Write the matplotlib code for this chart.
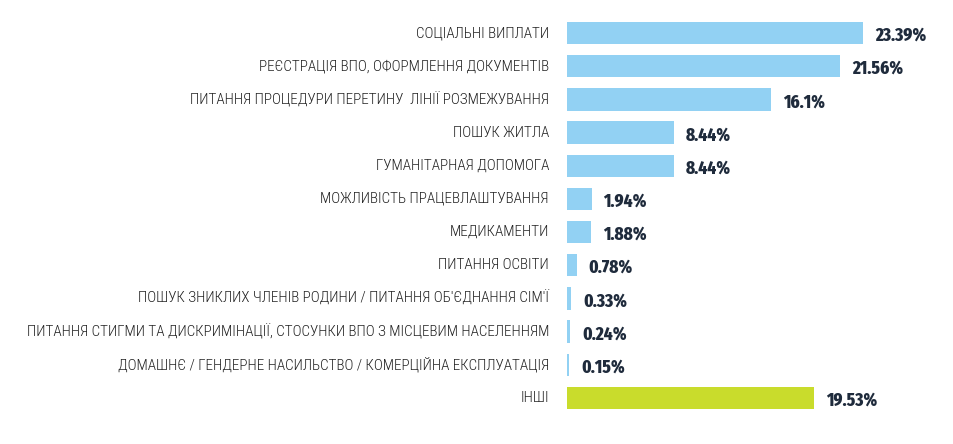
import matplotlib.pyplot as plt
from matplotlib import font_manager

categories = [
    "СОЦІАЛЬНІ ВИПЛАТИ",
    "РЕЄСТРАЦІЯ ВПО, ОФОРМЛЕННЯ ДОКУМЕНТІВ",
    "ПИТАННЯ ПРОЦЕДУРИ ПЕРЕТИНУ  ЛІНІЇ РОЗМЕЖУВАННЯ",
    "ПОШУК ЖИТЛА",
    "ГУМАНІТАРНАЯ ДОПОМОГА",
    "МОЖЛИВІСТЬ ПРАЦЕВЛАШТУВАННЯ",
    "МЕДИКАМЕНТИ",
    "ПИТАННЯ ОСВІТИ",
    "ПОШУК ЗНИКЛИХ ЧЛЕНІВ РОДИНИ / ПИТАННЯ ОБ'ЄДНАННЯ СІМ'Ї",
    "ПИТАННЯ СТИГМИ ТА ДИСКРИМІНАЦІЇ, СТОСУНКИ ВПО З МІСЦЕВИМ НАСЕЛЕННЯМ",
    "ДОМАШНЄ / ГЕНДЕРНЕ НАСИЛЬСТВО / КОМЕРЦІЙНА ЕКСПЛУАТАЦІЯ",
    "ІНШІ",
]
values = [23.39, 21.56, 16.1, 8.44, 8.44, 1.94, 1.88, 0.78, 0.33, 0.24, 0.15, 19.53]
value_labels = ["23.39%", "21.56%", "16.1%", "8.44%", "8.44%", "1.94%", "1.88%",
                "0.78%", "0.33%", "0.24%", "0.15%", "19.53%"]

blue = "#92d1f3"
green = "#c9dc2c"
colors = [blue] * 11 + [green]

names = {f.name for f in font_manager.fontManager.ttflist}
def pick(*cands):
    for c in cands:
        if c in names:
            return c
    return "DejaVu Sans"

label_font = pick("Roboto Condensed", "PT Sans Narrow", "Fira Sans Condensed")
value_font = pick("Fira Sans Extra Condensed", "Roboto Condensed", "PT Sans Narrow")

fig = plt.figure(figsize=(9.54, 4.44), dpi=100)
ax = fig.add_axes([567 / 954, 1 - 414.5 / 444, 373 / 954, 398 / 444])

px = 12.66  # pixels per percent
y = list(range(len(values)))
ax.barh(y, values, height=0.67, color=colors, edgecolor="none")
ax.set_xlim(0, 373 / px)
ax.set_ylim(11.5, -0.5)

renderer = fig.canvas.get_renderer()

# fit the longest category label to the reference width (~522 px)
t = fig.text(0, 0, categories[9], fontsize=10, family=label_font, fontweight=300)
w = t.get_window_extent(renderer).width
t.remove()
label_size = 10 * 522 / w

# fit "23.39%" to ~51 px
t = fig.text(0, 0, "23.39%", fontsize=13, family=value_font, fontweight=800)
w = t.get_window_extent(renderer).width
t.remove()
value_size = 13 * 51 / w

for yi, v, lab in zip(y, values, value_labels):
    ax.text(v + 12 / px, yi + 0.08, lab, va="center", ha="left",
            fontsize=value_size, fontweight=800, color="#1f2b3c", family=value_font)

for yi, c in zip(y, categories):
    ax.text(-18 / px, yi, c, va="center", ha="right", fontsize=label_size,
            fontweight=300, color="#222222", family=label_font)

ax.axis("off")
fig.savefig("out.png", dpi=100)
